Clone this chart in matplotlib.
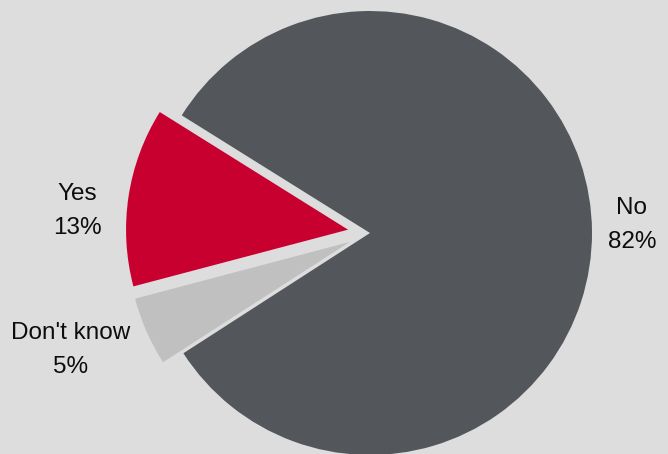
import matplotlib
matplotlib.use("Agg")
import matplotlib.pyplot as plt

# Data
categories = ["Yes", "Don't know", "No"]
values = [13, 5, 82]
pct_labels = ["13%", "5%", "82%"]

colors = ["#c8002f", "#c0c0c0", "#53575b"]
bg = "#dddddd"

plt.rcParams['font.family'] = ['Liberation Sans', 'DejaVu Sans']

W, H = 668, 454
fig = plt.figure(figsize=(W / 100, H / 100), dpi=100, facecolor=bg)
ax = fig.add_axes([0, 0, 1, 1])
ax.set_facecolor(bg)

ax.pie(values, colors=colors, startangle=148, counterclock=True,
       explode=[0.1, 0.1, 0.0], radius=1.0,
       wedgeprops=dict(linewidth=0))

# pixel-based layout: pie center at (370, 233) from top-left, radius 222 px
R = 222.0
cx, cy = 370.0, 233.0
ax.set_xlim(-cx / R, (W - cx) / R)
ax.set_ylim(-(H - cy) / R, cy / R)
ax.set_aspect('auto')
ax.axis('off')

# label positions (pixel coords from top-left)
label_pos = [(77, 211), (71, 350), (632, 225)]
for cat, pct, (px, py) in zip(categories, pct_labels, label_pos):
    ax.text((px - cx) / R, (cy - py) / R, f"{cat}\n{pct}",
            ha='center', va='center', fontsize=17.5, color='#0d0d0d',
            linespacing=1.75)

fig.savefig("out.png", dpi=100, facecolor=bg)
